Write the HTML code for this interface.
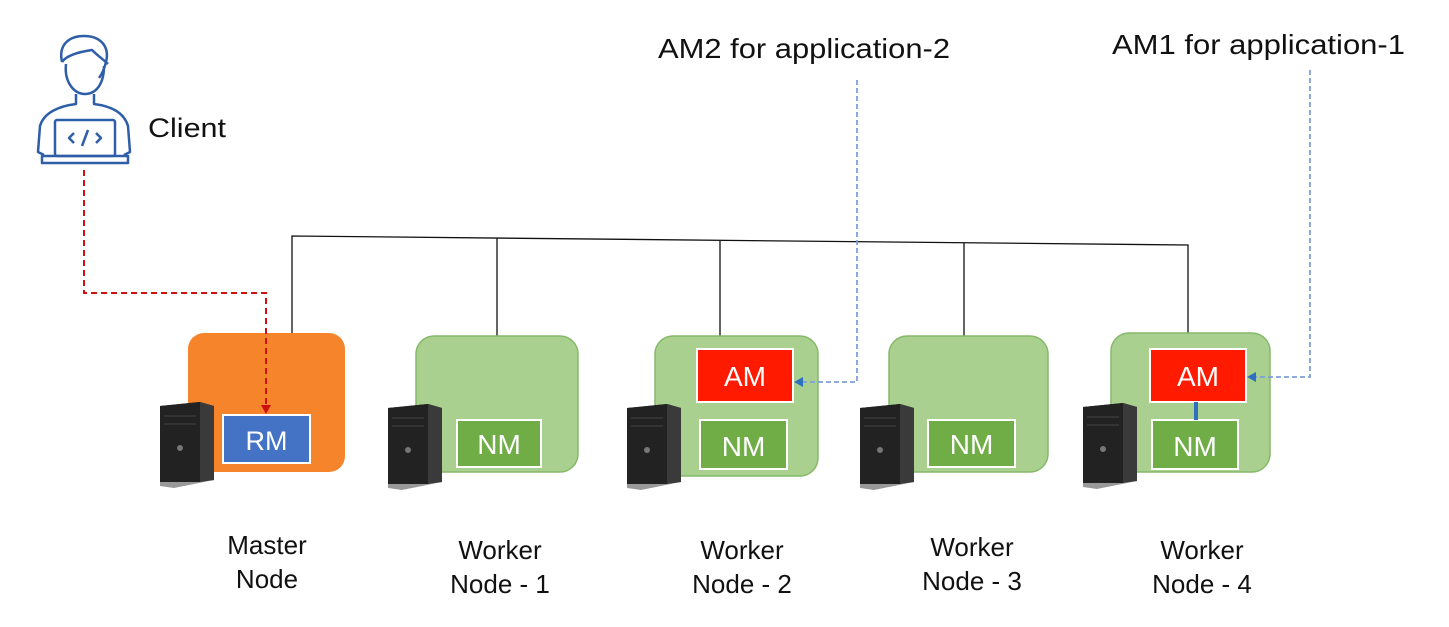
<!DOCTYPE html>
<html><head><meta charset="utf-8"><style>
html,body{margin:0;padding:0;background:#fff;width:1449px;height:627px;overflow:hidden}
text{font-family:"Liberation Sans",sans-serif}
</style></head><body>
<svg width="1449" height="627" viewBox="0 0 1449 627" xmlns="http://www.w3.org/2000/svg">
<defs>
<g id="tower">
  <polygon points="0,4 40,0 54,4 54,78 14,84 0,80" fill="#1a1a1a"/>
  <polygon points="0,4 40,0 40,80 0,80" fill="#222"/>
  <polygon points="40,0 54,4 54,78 40,80" fill="#3a3a3a"/>
  <line x1="4" y1="14" x2="36" y2="14" stroke="#444" stroke-width="1"/>
  <line x1="4" y1="22" x2="36" y2="22" stroke="#444" stroke-width="1"/>
  <circle cx="20" cy="46" r="3" fill="#777"/>
  <polygon points="0,80 40,80 54,78 14,86 0,84" fill="#999"/>
</g>
</defs>

<!-- client icon -->
<g fill="none" stroke="#2f5ea8" stroke-width="2.5" stroke-linejoin="round">
  <path d="M62,62 C58,44 70,36 84,36 C100,36 110,46 106,62 C104,70 102,74 99,78"/>
  <path d="M62,62 C66,56 78,52 92,50 C98,56 104,60 108,64"/>
  <path d="M66,64 C64,82 74,94 85,94 C96,94 104,84 104,66"/>
  <path d="M76,94 L76,104 C60,106 44,112 40,126 L38,152 L44,155"/>
  <path d="M94,94 L94,104 C110,106 124,112 128,126 L130,152 L124,155"/>
  <rect x="55" y="120" width="60" height="36" rx="2"/>
  <path d="M42,156 L128,156 L128,163 L42,163 Z"/>
  <path d="M74,133 L69,138 L74,143 M96,133 L101,138 L96,143 M88,130 L82,146"/>
</g>
<text x="148" y="137" font-size="27" fill="#111" textLength="78" lengthAdjust="spacingAndGlyphs">Client</text>

<!-- top labels -->
<text x="658" y="58" font-size="28" fill="#111" textLength="292" lengthAdjust="spacingAndGlyphs">AM2 for application-2</text>
<text x="1112" y="54" font-size="28" fill="#111" textLength="293" lengthAdjust="spacingAndGlyphs">AM1 for application-1</text>

<!-- bus -->
<g stroke="#111" stroke-width="1.3" fill="none">
  <polyline points="292,333 292,236 1188,245 1188,333"/>
  <line x1="497" y1="238" x2="497" y2="336"/>
  <line x1="720" y1="241" x2="720" y2="336"/>
  <line x1="964" y1="243" x2="964" y2="336"/>
</g>

<!-- master -->
<rect x="188" y="333" width="157" height="139" rx="16" fill="#f5842a"/>
<rect x="223" y="415" width="87" height="48" fill="#4472c4" stroke="#fff" stroke-width="2"/>
<text x="266.5" y="450" font-size="27" fill="#fff" text-anchor="middle">RM</text>
<use href="#tower" x="160" y="402"/>

<!-- workers -->
<g fill="#a9d08e" stroke="#86b86a" stroke-width="1.5">
  <rect x="416" y="336" width="162" height="136" rx="18"/>
  <rect x="655" y="336" width="163" height="140" rx="18"/>
  <rect x="889" y="336" width="159" height="136" rx="18"/>
  <rect x="1111" y="333" width="159" height="139" rx="18"/>
</g>
<g fill="#70ad47" stroke="#fff" stroke-width="2">
  <rect x="457" y="420" width="84" height="47"/>
  <rect x="700" y="420" width="87" height="49"/>
  <rect x="928" y="420" width="87" height="47"/>
  <rect x="1152" y="420" width="86" height="49"/>
</g>
<g fill="#ff1a00" stroke="#fff" stroke-width="2">
  <rect x="697" y="349" width="96" height="53"/>
  <rect x="1150" y="349" width="96" height="53"/>
</g>
<line x1="1196" y1="402" x2="1196" y2="420" stroke="#2f6fc0" stroke-width="4"/>
<g font-size="28" fill="#fff" text-anchor="middle">
  <text x="499" y="454">NM</text>
  <text x="743.5" y="456">NM</text>
  <text x="971.5" y="454">NM</text>
  <text x="1195" y="456">NM</text>
  <text x="745" y="386">AM</text>
  <text x="1198" y="386">AM</text>
</g>
<use href="#tower" x="388" y="404"/>
<use href="#tower" x="627" y="404"/>
<use href="#tower" x="860" y="404"/>
<use href="#tower" x="1083" y="403"/>

<!-- red dashed client->RM -->
<polyline points="84,170 84,293 266,293 266,406" fill="none" stroke="#d01010" stroke-width="2" stroke-dasharray="6,4"/>
<polygon points="261,405 271,405 266,414" fill="#d01010"/>

<!-- blue dashed -->
<g fill="none" stroke="#7f9fd8" stroke-width="1.8" stroke-dasharray="5,3">
  <polyline points="857,80 857,382 802,382"/>
  <polyline points="1310,70 1310,377 1255,377"/>
</g>
<polygon points="794,382 803,377 803,387" fill="#2f6fc0"/>
<polygon points="1247,377 1256,372 1256,382" fill="#2f6fc0"/>

<!-- bottom labels -->
<g font-size="26" fill="#111" text-anchor="middle">
  <text x="267" y="554">Master</text><text x="267" y="588">Node</text>
  <text x="500" y="559">Worker</text><text x="500" y="593">Node - 1</text>
  <text x="742" y="559">Worker</text><text x="742" y="593">Node - 2</text>
  <text x="972" y="556">Worker</text><text x="972" y="590">Node - 3</text>
  <text x="1202" y="559">Worker</text><text x="1202" y="593">Node - 4</text>
</g>
</svg>
</body></html>
